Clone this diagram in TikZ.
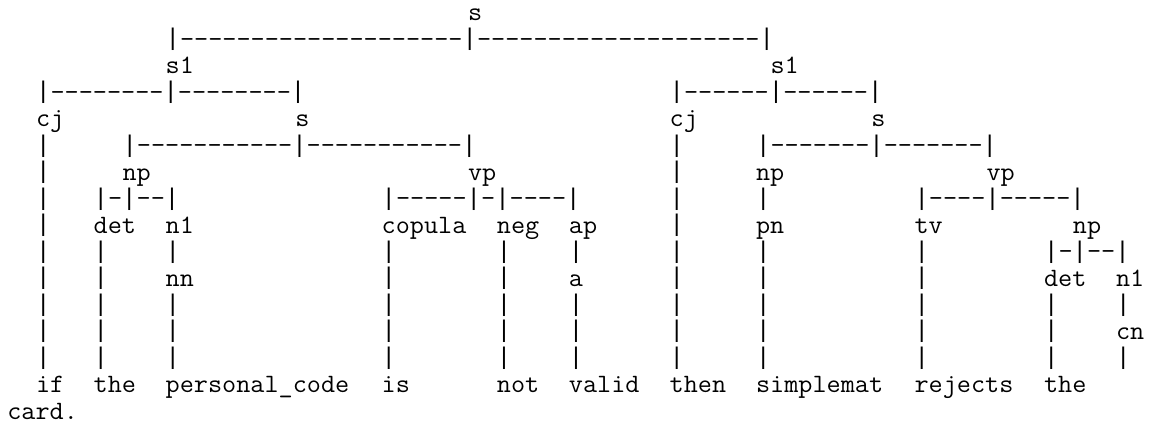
\documentclass[tikz,border=0pt]{standalone}
\usepackage{fontspec}
\setmonofont{Latin Modern Mono}[FakeStretch=1.035]
% the tree's bars: a '|' stretched to span most of a text line
\newfontfamily\barfont{Liberation Mono}
\newsavebox\barbox
\newcommand\B{{\barfont\fontsize{24}{26.55}\selectfont\sbox\barbox{|}%
  \raisebox{-3.5pt}{\resizebox*{\wd\barbox}{22.5pt}{\raisebox{\dp\barbox}{|}}}}}

% character grid: column width and line height in pt
\newcommand\cw{14.4}
\newcommand\lh{26.55}

\tikzset{
  cell/.style={anchor=base west, inner sep=0pt, outer sep=0pt,
    font=\fontsize{26.5}{26.55}\selectfont\ttfamily, text=black},
}

% \putcell{name}{column}{row}{text}
\newcommand\putcell[4]{\node[cell] (#1) at ({7.3+#2*\cw},{423-20.8-(#3-1)*\lh}) {#4};}
% single bars on one row, one per listed column
\newcommand\putbars[2]{\foreach \c in {#2} {\node[cell] (bar-#1-\c) at ({7.3+\c*\cw},{423-20.8-(#1-1)*\lh}) {\B};}}

\begin{document}
\begin{tikzpicture}[x=1pt,y=1pt]
\useasboundingbox[fill=white] (0,0) rectangle (1150,423);

% row 1
\putcell{s0}{32}{1}{s}
% row 2
\putcell{br0}{11}{2}{\B--------------------\B--------------------\B}
% row 3
\putcell{s1a}{11}{3}{s1}
\putcell{s1b}{53}{3}{s1}
% row 4
\putcell{br1a}{2}{4}{\B--------\B--------\B}
\putcell{br1b}{46}{4}{\B------\B------\B}
% row 5
\putcell{cja}{2}{5}{cj}
\putcell{sa}{20}{5}{s}
\putcell{cjb}{46}{5}{cj}
\putcell{sb}{60}{5}{s}
% row 6
\putbars{6}{2,46}
\putcell{brsa}{8}{6}{\B-----------\B-----------\B}
\putcell{brsb}{52}{6}{\B-------\B-------\B}
% row 7
\putbars{7}{2,46}
\putcell{npa}{8}{7}{np}
\putcell{vpa}{32}{7}{vp}
\putcell{npb}{52}{7}{np}
\putcell{vpb}{68}{7}{vp}
% row 8
\putbars{8}{2,46,52}
\putcell{brnpa}{6}{8}{\B-\B--\B}
\putcell{brvpa}{26}{8}{\B-----\B-\B----\B}
\putcell{brvpb}{63}{8}{\B----\B-----\B}
% row 9
\putbars{9}{2,46}
\putcell{deta}{6}{9}{det}
\putcell{noa}{11}{9}{n1}
\putcell{cop}{26}{9}{copula}
\putcell{neg}{34}{9}{neg}
\putcell{ap}{39}{9}{ap}
\putcell{pn}{52}{9}{pn}
\putcell{tv}{63}{9}{tv}
\putcell{npc}{74}{9}{np}
% row 10
\putbars{10}{2,6,11,26,34,39,46,52,63}
\putcell{brnpc}{72}{10}{\B-\B--\B}
% row 11
\putbars{11}{2,6,26,34,46,52,63}
\putcell{nn}{11}{11}{nn}
\putcell{adj}{39}{11}{a}
\putcell{detb}{72}{11}{det}
\putcell{nob}{77}{11}{n1}
% rows 12--14
\putbars{12}{2,6,11,26,34,39,46,52,63,72,77}
\putbars{13}{2,6,11,26,34,39,46,52,63,72}
\putcell{cn}{77}{13}{cn}
\putbars{14}{2,6,11,26,34,39,46,52,63,72,77}
% row 15: the words
\putcell{w1}{2}{15}{if}
\putcell{w2}{6}{15}{the}
\putcell{w3}{11}{15}{personal\_code}
\putcell{w4}{26}{15}{is}
\putcell{w5}{34}{15}{not}
\putcell{w6}{39}{15}{valid}
\putcell{w7}{46}{15}{then}
\putcell{w8}{52}{15}{simplemat}
\putcell{w9}{63}{15}{rejects}
\putcell{w10}{72}{15}{the}
% row 16
\putcell{w11}{0}{16}{card.}
\end{tikzpicture}
\end{document}
